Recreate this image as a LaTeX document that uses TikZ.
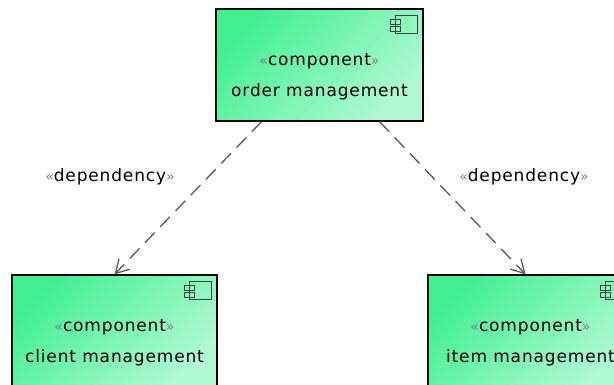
\documentclass[tikz,border=0pt]{standalone}
\usepackage{fontspec}
\usetikzlibrary{arrows.meta}
\newfontfamily\umlfont[LetterSpace=5]{DejaVu Sans}
\definecolor{compdark}{RGB}{66,240,146}
\definecolor{complight}{RGB}{176,250,210}
\definecolor{edgegray}{RGB}{90,90,90}
\newcommand{\stereo}[1]{{\color{gray}\fontsize{14}{14}\selectfont «}#1{\color{gray}\fontsize{14}{14}\selectfont »}}
\tikzset{
  comp/.style={draw=black,line width=1.3pt,top color=compdark,bottom color=complight,
    shading angle=45,minimum width=205pt,minimum height=112pt,inner sep=0pt},
  comptext/.style={anchor=base,inner sep=0pt,font=\umlfont\fontsize{17}{20}\selectfont},
  dep/.style={draw=edgegray,line width=1.3pt,dash pattern=on 14pt off 8pt,
    -{Straight Barb[length=13pt,width=15pt,line width=1.3pt]}},
  deplabel/.style={inner sep=0pt,font=\umlfont\fontsize{17}{20}\selectfont},
}
\newcommand{\compicon}[1]{%
  \draw[line width=1pt,black!75] ([xshift=-28pt,yshift=-7pt]#1.north east) rectangle ([xshift=-6pt,yshift=-25pt]#1.north east);
  \draw[line width=1pt,black!75] ([xshift=-33pt,yshift=-11pt]#1.north east) rectangle ([xshift=-23pt,yshift=-16pt]#1.north east);
  \draw[line width=1pt,black!75] ([xshift=-33pt,yshift=-18pt]#1.north east) rectangle ([xshift=-23pt,yshift=-23pt]#1.north east);
}
\begin{document}
\begin{tikzpicture}[x=1pt,y=1pt]
  \useasboundingbox (0,0) rectangle (614,385);
  \clip (0,0) rectangle (614,385);
%%
  % Node: order management
  \node[comp,minimum width=207pt] (order) at (319.5,320) {};
  \compicon{order}
  \node[comptext] (orderStereo) at ([yshift=-1pt]order.center) {\stereo{component}};
  \node[comptext] (orderName) at ([yshift=-32pt]order.center) {order management};
  % Node: client management
  \node[comp] (client) at (114.5,54) {};
  \compicon{client}
  \node[comptext] (clientStereo) at ([yshift=-1pt]client.center) {\stereo{component}};
  \node[comptext] (clientName) at ([yshift=-32pt]client.center) {client management};
  % Node: item management
  \node[comp] (item) at (530.5,54) {};
  \compicon{item}
  \node[comptext] (itemStereo) at ([yshift=-1pt]item.center) {\stereo{component}};
  \node[comptext] (itemName) at ([yshift=-32pt]item.center) {item management};
  % Edge: order management -> client management
  \draw[dep] ([xshift=-58pt]order.south) -- (client.north);
  \node[deplabel] (depClient) at (110,208) {\stereo{dependency}};
  % Edge: order management -> item management
  \draw[dep] ([xshift=60pt]order.south) -- ([xshift=-5pt]item.north);
  \node[deplabel] (depItem) at (524,208) {\stereo{dependency}};
%
\end{tikzpicture}
\end{document}
